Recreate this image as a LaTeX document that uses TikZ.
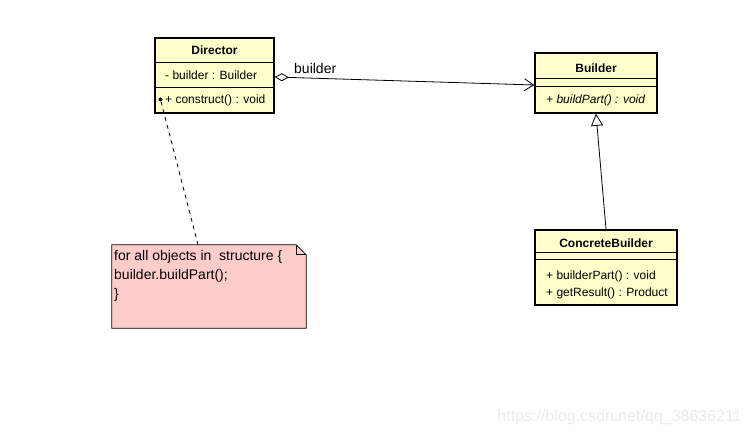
\documentclass[tikz,border=0pt]{standalone}
\usepackage{fontspec}
\setmainfont{Liberation Sans}
\usetikzlibrary{arrows.meta}
\definecolor{clsfill}{HTML}{FFFFCC}
\definecolor{notefill}{HTML}{FFCCCC}

\begin{document}
\begin{tikzpicture}[x=1pt,y=-1pt]
        \tikzset{
          cls/.style={draw=black, line width=1.6pt, fill=clsfill, inner sep=0pt},
          ttl/.style={inner sep=0pt, font=\fontsize{12}{14}\selectfont\bfseries},
          mbr/.style={inner sep=0pt, anchor=west, font=\fontsize{12}{14}\selectfont},
          dot/.style={circle, fill=black, minimum size=4pt, inner sep=0pt},
          lbl/.style={inner sep=0pt, font=\fontsize{14}{19}\selectfont}
        }
        \useasboundingbox (0,0) rectangle (751,435);

        % — Director —
        \node[cls, minimum width=119pt, minimum height=75pt] (director) at (214.5,75.5) {};
        \draw[line width=0.8pt] (155,62) -- (274,62);
        \draw[line width=0.8pt] (155,87) -- (274,87);
        \node[ttl] (dirT) at (214.5,50.5) {Director};
        \node[mbr] (dirA) at (165,75) {- builder : Builder};
        \node[mbr] (dirM) at (165,100) {+ construct() : void};
        \node[dot] (anc) at (160.5,99.5) {};

        % — Builder —
        \node[cls, minimum width=122pt, minimum height=60pt] (builder) at (596,83) {};
        \draw[line width=0.8pt] (535,78) -- (657,78);
        \draw[line width=0.8pt] (535,86) -- (657,86);
        \node[ttl] (bldT) at (596,68) {Builder};
        \node[mbr, font=\fontsize{12}{14}\selectfont\itshape] (bldM) at (546,100) {+ buildPart() : void};

        % — ConcreteBuilder —
        \node[cls, minimum width=142pt, minimum height=75pt] (concrete) at (606,267.5) {};
        \draw[line width=0.8pt] (535,252) -- (677,252);
        \draw[line width=0.8pt] (535,259) -- (677,259);
        \node[ttl] (conT) at (606,243) {ConcreteBuilder};
        \foreach \txt [count=\k] in {{+ builderPart() : void}, {+ getResult() : Product}} {
          \node[mbr] (conM\k) at (546,259+17*\k) {\txt};
        }

        % — note —
        \node[minimum width=194pt, minimum height=83pt, inner sep=0pt] (note) at (209,286.5) {};
        \draw[fill=notefill, line width=0.8pt] (note.north west) -- ([xshift=-10pt]note.north east)
          -- ([yshift=-10pt]note.north east) -- (note.south east) -- (note.south west) -- cycle;
        \draw[line width=0.8pt] ([xshift=-10pt]note.north east) |- ([yshift=-10pt]note.north east);
        \node[lbl, align=left, anchor=north west] (noteT) at (114,250)
          {for all objects in\ \ structure \{\\ builder.buildPart();\\ \}};

        % connectors
        \draw[line width=0.8pt, {Diamond[open,fill=white,length=14pt,width=8pt]}-{Straight Barb[length=9pt,width=12pt]}]
          ([yshift=-1.5pt]director.east) -- ([yshift=-2pt]builder.west);
        \node[lbl, anchor=west] (aggL) at (294,68) {builder};
        \draw[line width=0.8pt, -{Triangle[open,fill=white,length=12pt,width=12pt]}] (concrete.north) -- (builder.south);
        \draw[line width=0.8pt, dash pattern=on 4pt off 4pt] (anc) -- ([xshift=-11pt]note.north);

        % watermark
        \node[anchor=east, text=black!8, inner sep=0pt, font=\fontsize{16}{18}\selectfont] (wm) at (742,417) {https://blog.csdn.net/qq\_38636211};
      \end{tikzpicture}
\end{document}
